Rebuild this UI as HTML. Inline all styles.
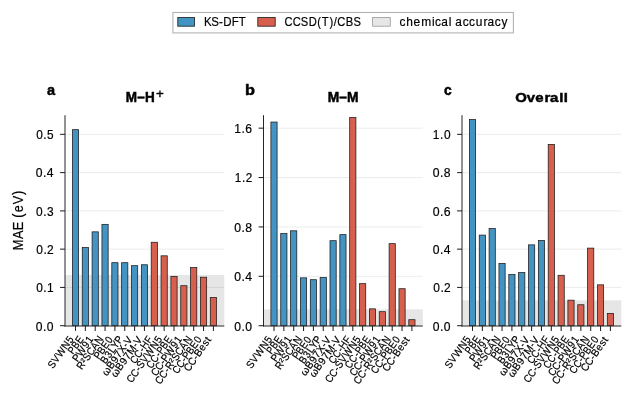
<!DOCTYPE html>
<html><head><meta charset="utf-8"><style>html,body{margin:0;padding:0;background:#fff;width:633px;height:398px;overflow:hidden}svg{display:block;will-change:transform}</style></head><body>
<svg width="633" height="398" viewBox="0 0 633 398" font-family="Liberation Sans, sans-serif">
<rect width="633" height="398" fill="#fff"/>
<rect x="65.00" y="274.99" width="159.30" height="50.71" fill="#e6e6e6"/>
<line x1="65.00" y1="287.43" x2="224.30" y2="287.43" stroke="#000" stroke-opacity="0.08" stroke-width="1"/>
<line x1="65.00" y1="249.15" x2="224.30" y2="249.15" stroke="#000" stroke-opacity="0.08" stroke-width="1"/>
<line x1="65.00" y1="210.88" x2="224.30" y2="210.88" stroke="#000" stroke-opacity="0.08" stroke-width="1"/>
<line x1="65.00" y1="172.61" x2="224.30" y2="172.61" stroke="#000" stroke-opacity="0.08" stroke-width="1"/>
<line x1="65.00" y1="134.34" x2="224.30" y2="134.34" stroke="#000" stroke-opacity="0.08" stroke-width="1"/>
<rect x="72.40" y="129.66" width="6.20" height="196.04" fill="#4393c3" stroke="#1a1a1a" stroke-width="0.75"/>
<rect x="82.25" y="247.54" width="6.20" height="78.16" fill="#4393c3" stroke="#1a1a1a" stroke-width="0.75"/>
<rect x="92.10" y="231.85" width="6.20" height="93.85" fill="#4393c3" stroke="#1a1a1a" stroke-width="0.75"/>
<rect x="101.95" y="224.35" width="6.20" height="101.35" fill="#4393c3" stroke="#1a1a1a" stroke-width="0.75"/>
<rect x="111.80" y="262.70" width="6.20" height="63.00" fill="#4393c3" stroke="#1a1a1a" stroke-width="0.75"/>
<rect x="121.65" y="262.70" width="6.20" height="63.00" fill="#4393c3" stroke="#1a1a1a" stroke-width="0.75"/>
<rect x="131.50" y="265.68" width="6.20" height="60.02" fill="#4393c3" stroke="#1a1a1a" stroke-width="0.75"/>
<rect x="141.35" y="264.76" width="6.20" height="60.94" fill="#4393c3" stroke="#1a1a1a" stroke-width="0.75"/>
<rect x="151.20" y="242.26" width="6.20" height="83.44" fill="#d6604d" stroke="#1a1a1a" stroke-width="0.75"/>
<rect x="161.05" y="255.81" width="6.20" height="69.89" fill="#d6604d" stroke="#1a1a1a" stroke-width="0.75"/>
<rect x="170.90" y="276.36" width="6.20" height="49.34" fill="#d6604d" stroke="#1a1a1a" stroke-width="0.75"/>
<rect x="180.75" y="285.70" width="6.20" height="40.00" fill="#d6604d" stroke="#1a1a1a" stroke-width="0.75"/>
<rect x="190.60" y="267.60" width="6.20" height="58.10" fill="#d6604d" stroke="#1a1a1a" stroke-width="0.75"/>
<rect x="200.45" y="277.20" width="6.20" height="48.50" fill="#d6604d" stroke="#1a1a1a" stroke-width="0.75"/>
<rect x="210.30" y="297.49" width="6.20" height="28.21" fill="#d6604d" stroke="#1a1a1a" stroke-width="0.75"/>
<line x1="65.00" y1="115.20" x2="65.00" y2="326.50" stroke="#262626" stroke-width="1.0"/>
<line x1="64.50" y1="326.00" x2="224.30" y2="326.00" stroke="#262626" stroke-width="1.0"/>
<line x1="60.10" y1="325.70" x2="65.00" y2="325.70" stroke="#222" stroke-width="1.05"/>
<line x1="60.10" y1="287.43" x2="65.00" y2="287.43" stroke="#222" stroke-width="1.05"/>
<line x1="60.10" y1="249.15" x2="65.00" y2="249.15" stroke="#222" stroke-width="1.05"/>
<line x1="60.10" y1="210.88" x2="65.00" y2="210.88" stroke="#222" stroke-width="1.05"/>
<line x1="60.10" y1="172.61" x2="65.00" y2="172.61" stroke="#222" stroke-width="1.05"/>
<line x1="60.10" y1="134.34" x2="65.00" y2="134.34" stroke="#222" stroke-width="1.05"/>
<line x1="75.50" y1="326.00" x2="75.50" y2="330.90" stroke="#222" stroke-width="1.05"/>
<line x1="85.35" y1="326.00" x2="85.35" y2="330.90" stroke="#222" stroke-width="1.05"/>
<line x1="95.20" y1="326.00" x2="95.20" y2="330.90" stroke="#222" stroke-width="1.05"/>
<line x1="105.05" y1="326.00" x2="105.05" y2="330.90" stroke="#222" stroke-width="1.05"/>
<line x1="114.90" y1="326.00" x2="114.90" y2="330.90" stroke="#222" stroke-width="1.05"/>
<line x1="124.75" y1="326.00" x2="124.75" y2="330.90" stroke="#222" stroke-width="1.05"/>
<line x1="134.60" y1="326.00" x2="134.60" y2="330.90" stroke="#222" stroke-width="1.05"/>
<line x1="144.45" y1="326.00" x2="144.45" y2="330.90" stroke="#222" stroke-width="1.05"/>
<line x1="154.30" y1="326.00" x2="154.30" y2="330.90" stroke="#222" stroke-width="1.05"/>
<line x1="164.15" y1="326.00" x2="164.15" y2="330.90" stroke="#222" stroke-width="1.05"/>
<line x1="174.00" y1="326.00" x2="174.00" y2="330.90" stroke="#222" stroke-width="1.05"/>
<line x1="183.85" y1="326.00" x2="183.85" y2="330.90" stroke="#222" stroke-width="1.05"/>
<line x1="193.70" y1="326.00" x2="193.70" y2="330.90" stroke="#222" stroke-width="1.05"/>
<line x1="203.55" y1="326.00" x2="203.55" y2="330.90" stroke="#222" stroke-width="1.05"/>
<line x1="213.40" y1="326.00" x2="213.40" y2="330.90" stroke="#222" stroke-width="1.05"/>
<rect x="263.50" y="309.34" width="159.30" height="16.36" fill="#e6e6e6"/>
<line x1="263.50" y1="276.32" x2="422.80" y2="276.32" stroke="#000" stroke-opacity="0.08" stroke-width="1"/>
<line x1="263.50" y1="226.93" x2="422.80" y2="226.93" stroke="#000" stroke-opacity="0.08" stroke-width="1"/>
<line x1="263.50" y1="177.55" x2="422.80" y2="177.55" stroke="#000" stroke-opacity="0.08" stroke-width="1"/>
<line x1="263.50" y1="128.16" x2="422.80" y2="128.16" stroke="#000" stroke-opacity="0.08" stroke-width="1"/>
<rect x="270.90" y="122.04" width="6.20" height="203.66" fill="#4393c3" stroke="#1a1a1a" stroke-width="0.75"/>
<rect x="280.75" y="233.53" width="6.20" height="92.17" fill="#4393c3" stroke="#1a1a1a" stroke-width="0.75"/>
<rect x="290.60" y="230.81" width="6.20" height="94.89" fill="#4393c3" stroke="#1a1a1a" stroke-width="0.75"/>
<rect x="300.45" y="277.85" width="6.20" height="47.85" fill="#4393c3" stroke="#1a1a1a" stroke-width="0.75"/>
<rect x="310.30" y="279.70" width="6.20" height="46.00" fill="#4393c3" stroke="#1a1a1a" stroke-width="0.75"/>
<rect x="320.15" y="277.60" width="6.20" height="48.10" fill="#4393c3" stroke="#1a1a1a" stroke-width="0.75"/>
<rect x="330.00" y="240.69" width="6.20" height="85.01" fill="#4393c3" stroke="#1a1a1a" stroke-width="0.75"/>
<rect x="339.85" y="234.64" width="6.20" height="91.06" fill="#4393c3" stroke="#1a1a1a" stroke-width="0.75"/>
<rect x="349.70" y="117.48" width="6.20" height="208.22" fill="#d6604d" stroke="#1a1a1a" stroke-width="0.75"/>
<rect x="359.55" y="283.65" width="6.20" height="42.05" fill="#d6604d" stroke="#1a1a1a" stroke-width="0.75"/>
<rect x="369.40" y="308.84" width="6.20" height="16.86" fill="#d6604d" stroke="#1a1a1a" stroke-width="0.75"/>
<rect x="379.25" y="311.68" width="6.20" height="14.02" fill="#d6604d" stroke="#1a1a1a" stroke-width="0.75"/>
<rect x="389.10" y="243.65" width="6.20" height="82.05" fill="#d6604d" stroke="#1a1a1a" stroke-width="0.75"/>
<rect x="398.95" y="288.71" width="6.20" height="36.99" fill="#d6604d" stroke="#1a1a1a" stroke-width="0.75"/>
<rect x="408.80" y="319.70" width="6.20" height="6.00" fill="#d6604d" stroke="#1a1a1a" stroke-width="0.75"/>
<line x1="263.50" y1="115.20" x2="263.50" y2="326.50" stroke="#262626" stroke-width="1.0"/>
<line x1="263.00" y1="326.00" x2="422.80" y2="326.00" stroke="#262626" stroke-width="1.0"/>
<line x1="258.60" y1="325.70" x2="263.50" y2="325.70" stroke="#222" stroke-width="1.05"/>
<line x1="258.60" y1="276.32" x2="263.50" y2="276.32" stroke="#222" stroke-width="1.05"/>
<line x1="258.60" y1="226.93" x2="263.50" y2="226.93" stroke="#222" stroke-width="1.05"/>
<line x1="258.60" y1="177.55" x2="263.50" y2="177.55" stroke="#222" stroke-width="1.05"/>
<line x1="258.60" y1="128.16" x2="263.50" y2="128.16" stroke="#222" stroke-width="1.05"/>
<line x1="274.00" y1="326.00" x2="274.00" y2="330.90" stroke="#222" stroke-width="1.05"/>
<line x1="283.85" y1="326.00" x2="283.85" y2="330.90" stroke="#222" stroke-width="1.05"/>
<line x1="293.70" y1="326.00" x2="293.70" y2="330.90" stroke="#222" stroke-width="1.05"/>
<line x1="303.55" y1="326.00" x2="303.55" y2="330.90" stroke="#222" stroke-width="1.05"/>
<line x1="313.40" y1="326.00" x2="313.40" y2="330.90" stroke="#222" stroke-width="1.05"/>
<line x1="323.25" y1="326.00" x2="323.25" y2="330.90" stroke="#222" stroke-width="1.05"/>
<line x1="333.10" y1="326.00" x2="333.10" y2="330.90" stroke="#222" stroke-width="1.05"/>
<line x1="342.95" y1="326.00" x2="342.95" y2="330.90" stroke="#222" stroke-width="1.05"/>
<line x1="352.80" y1="326.00" x2="352.80" y2="330.90" stroke="#222" stroke-width="1.05"/>
<line x1="362.65" y1="326.00" x2="362.65" y2="330.90" stroke="#222" stroke-width="1.05"/>
<line x1="372.50" y1="326.00" x2="372.50" y2="330.90" stroke="#222" stroke-width="1.05"/>
<line x1="382.35" y1="326.00" x2="382.35" y2="330.90" stroke="#222" stroke-width="1.05"/>
<line x1="392.20" y1="326.00" x2="392.20" y2="330.90" stroke="#222" stroke-width="1.05"/>
<line x1="402.05" y1="326.00" x2="402.05" y2="330.90" stroke="#222" stroke-width="1.05"/>
<line x1="411.90" y1="326.00" x2="411.90" y2="330.90" stroke="#222" stroke-width="1.05"/>
<rect x="462.00" y="300.34" width="159.30" height="25.36" fill="#e6e6e6"/>
<line x1="462.00" y1="287.43" x2="621.30" y2="287.43" stroke="#000" stroke-opacity="0.08" stroke-width="1"/>
<line x1="462.00" y1="249.15" x2="621.30" y2="249.15" stroke="#000" stroke-opacity="0.08" stroke-width="1"/>
<line x1="462.00" y1="210.88" x2="621.30" y2="210.88" stroke="#000" stroke-opacity="0.08" stroke-width="1"/>
<line x1="462.00" y1="172.61" x2="621.30" y2="172.61" stroke="#000" stroke-opacity="0.08" stroke-width="1"/>
<line x1="462.00" y1="134.34" x2="621.30" y2="134.34" stroke="#000" stroke-opacity="0.08" stroke-width="1"/>
<rect x="469.40" y="119.52" width="6.20" height="206.18" fill="#4393c3" stroke="#1a1a1a" stroke-width="0.75"/>
<rect x="479.25" y="235.10" width="6.20" height="90.60" fill="#4393c3" stroke="#1a1a1a" stroke-width="0.75"/>
<rect x="489.10" y="228.60" width="6.20" height="97.10" fill="#4393c3" stroke="#1a1a1a" stroke-width="0.75"/>
<rect x="498.95" y="263.42" width="6.20" height="62.28" fill="#4393c3" stroke="#1a1a1a" stroke-width="0.75"/>
<rect x="508.80" y="274.52" width="6.20" height="51.18" fill="#4393c3" stroke="#1a1a1a" stroke-width="0.75"/>
<rect x="518.65" y="272.61" width="6.20" height="53.09" fill="#4393c3" stroke="#1a1a1a" stroke-width="0.75"/>
<rect x="528.50" y="244.86" width="6.20" height="80.84" fill="#4393c3" stroke="#1a1a1a" stroke-width="0.75"/>
<rect x="538.35" y="240.46" width="6.20" height="85.24" fill="#4393c3" stroke="#1a1a1a" stroke-width="0.75"/>
<rect x="548.20" y="144.40" width="6.20" height="181.30" fill="#d6604d" stroke="#1a1a1a" stroke-width="0.75"/>
<rect x="558.05" y="275.29" width="6.20" height="50.41" fill="#d6604d" stroke="#1a1a1a" stroke-width="0.75"/>
<rect x="567.90" y="300.17" width="6.20" height="25.53" fill="#d6604d" stroke="#1a1a1a" stroke-width="0.75"/>
<rect x="577.75" y="304.76" width="6.20" height="20.94" fill="#d6604d" stroke="#1a1a1a" stroke-width="0.75"/>
<rect x="587.60" y="248.12" width="6.20" height="77.58" fill="#d6604d" stroke="#1a1a1a" stroke-width="0.75"/>
<rect x="597.45" y="284.86" width="6.20" height="40.84" fill="#d6604d" stroke="#1a1a1a" stroke-width="0.75"/>
<rect x="607.30" y="313.37" width="6.20" height="12.33" fill="#d6604d" stroke="#1a1a1a" stroke-width="0.75"/>
<line x1="462.00" y1="115.20" x2="462.00" y2="326.50" stroke="#262626" stroke-width="1.0"/>
<line x1="461.50" y1="326.00" x2="621.30" y2="326.00" stroke="#262626" stroke-width="1.0"/>
<line x1="457.10" y1="325.70" x2="462.00" y2="325.70" stroke="#222" stroke-width="1.05"/>
<line x1="457.10" y1="287.43" x2="462.00" y2="287.43" stroke="#222" stroke-width="1.05"/>
<line x1="457.10" y1="249.15" x2="462.00" y2="249.15" stroke="#222" stroke-width="1.05"/>
<line x1="457.10" y1="210.88" x2="462.00" y2="210.88" stroke="#222" stroke-width="1.05"/>
<line x1="457.10" y1="172.61" x2="462.00" y2="172.61" stroke="#222" stroke-width="1.05"/>
<line x1="457.10" y1="134.34" x2="462.00" y2="134.34" stroke="#222" stroke-width="1.05"/>
<line x1="472.50" y1="326.00" x2="472.50" y2="330.90" stroke="#222" stroke-width="1.05"/>
<line x1="482.35" y1="326.00" x2="482.35" y2="330.90" stroke="#222" stroke-width="1.05"/>
<line x1="492.20" y1="326.00" x2="492.20" y2="330.90" stroke="#222" stroke-width="1.05"/>
<line x1="502.05" y1="326.00" x2="502.05" y2="330.90" stroke="#222" stroke-width="1.05"/>
<line x1="511.90" y1="326.00" x2="511.90" y2="330.90" stroke="#222" stroke-width="1.05"/>
<line x1="521.75" y1="326.00" x2="521.75" y2="330.90" stroke="#222" stroke-width="1.05"/>
<line x1="531.60" y1="326.00" x2="531.60" y2="330.90" stroke="#222" stroke-width="1.05"/>
<line x1="541.45" y1="326.00" x2="541.45" y2="330.90" stroke="#222" stroke-width="1.05"/>
<line x1="551.30" y1="326.00" x2="551.30" y2="330.90" stroke="#222" stroke-width="1.05"/>
<line x1="561.15" y1="326.00" x2="561.15" y2="330.90" stroke="#222" stroke-width="1.05"/>
<line x1="571.00" y1="326.00" x2="571.00" y2="330.90" stroke="#222" stroke-width="1.05"/>
<line x1="580.85" y1="326.00" x2="580.85" y2="330.90" stroke="#222" stroke-width="1.05"/>
<line x1="590.70" y1="326.00" x2="590.70" y2="330.90" stroke="#222" stroke-width="1.05"/>
<line x1="600.55" y1="326.00" x2="600.55" y2="330.90" stroke="#222" stroke-width="1.05"/>
<line x1="610.40" y1="326.00" x2="610.40" y2="330.90" stroke="#222" stroke-width="1.05"/>
<rect x="172.9" y="12.5" width="340.5" height="20.4" fill="#fff" stroke="#b3b3b3" stroke-width="1.1"/>
<rect x="177.80" y="17.5" width="16.70" height="8.7" fill="#4393c3" stroke="#1a1a1a" stroke-width="0.8"/>
<rect x="257.80" y="17.5" width="17.40" height="8.7" fill="#d6604d" stroke="#1a1a1a" stroke-width="0.8"/>
<rect x="372.60" y="17.5" width="17.70" height="8.7" fill="#e6e6e6" stroke="#999999" stroke-width="0.8"/>
<g fill="#000" stroke="#000" stroke-width="0.18"><g transform="translate(53.10 330.57) translate(-17.53 0)"><text x="0.26 7.05 10.65" y="0" font-size="11.50" transform="scale(1.057 1.042)">0.0</text></g><g transform="translate(53.10 292.30) translate(-17.23 0)"><text x="0.33 7.22 10.86" y="0" font-size="11.50" transform="scale(1.036 1.040)">0.1</text></g><g transform="translate(53.10 254.02) translate(-17.14 0)"><text x="0.32 7.19 10.72" y="0" font-size="11.50" transform="scale(1.040 1.042)">0.2</text></g><g transform="translate(53.10 215.75) translate(-17.37 0)"><text x="0.32 7.21 10.91" y="0" font-size="11.50" transform="scale(1.038 1.042)">0.3</text></g><g transform="translate(53.10 177.48) translate(-17.64 0)"><text x="0.26 7.05 10.64" y="0" font-size="11.50" transform="scale(1.057 1.040)">0.4</text></g><g transform="translate(53.10 139.21) translate(-17.28 0)"><text x="0.35 7.28 10.96" y="0" font-size="11.50" transform="scale(1.030 1.040)">0.5</text></g><g transform="translate(53.50 368.65) rotate(-55.0) translate(-0.66 0)"><text x="-0.03 6.67 13.85 23.85 31.73" y="0" font-size="10.00" transform="scale(0.977 1.060)">SVWN5</text></g><g transform="translate(73.56 354.07) rotate(-55.0) translate(-0.98 0)"><text x="0.19 7.10 14.35" y="0" font-size="10.00" transform="scale(0.907 1.060)">PBE</text></g><g transform="translate(78.16 361.56) rotate(-55.0) translate(-0.98 0)"><text x="-0.10 6.40 16.54 22.97" y="0" font-size="10.00" transform="scale(0.987 1.060)">PW91</text></g><g transform="translate(82.33 369.68) rotate(-55.0) translate(-0.98 0)"><text x="0.20 7.58 11.46 18.03 25.57 32.76" y="0" font-size="10.00" transform="scale(0.959 1.061)">R²SCAN</text></g><g transform="translate(99.47 359.26) rotate(-55.0) translate(-0.98 0)"><text x="0.06 6.72 13.71 21.01" y="0" font-size="10.00" transform="scale(0.941 1.060)">PBE0</text></g><g transform="translate(106.06 363.91) rotate(-55.0) translate(-0.98 0)"><text x="0.18 7.53 13.88 19.09 25.50" y="0" font-size="10.00" transform="scale(0.974 1.060)">B3LYP</text></g><g transform="translate(107.36 376.13) rotate(-55.0) translate(-0.66 0)"><text x="0.19 8.23 15.24 21.49 27.42 34.23 37.68" y="0" font-size="10.00" transform="scale(1.020 1.053)">ωB97X-V</text></g><g transform="translate(116.19 377.58) rotate(-55.0) translate(-0.66 0)"><text x="0.20 8.24 15.26 21.51 27.51 36.01 39.46" y="0" font-size="10.00" transform="scale(1.019 1.053)">ωB97M-V</text></g><g transform="translate(135.56 363.99) rotate(-55.0) translate(-0.56 0)"><text x="0.04 7.44 15.05 19.00 26.59" y="0" font-size="10.00" transform="scale(0.944 1.061)">CC-HF</text></g><g transform="translate(132.01 383.12) rotate(-55.0) translate(-0.56 0)"><text x="-0.06 7.15 14.61 18.14 24.88 32.13 42.21 50.14" y="0" font-size="10.00" transform="scale(0.969 1.061)">CC-SVWN5</text></g><g transform="translate(151.89 368.81) rotate(-55.0) translate(-0.56 0)"><text x="0.09 7.61 15.31 19.02 25.76 32.84" y="0" font-size="10.00" transform="scale(0.929 1.061)">CC-PBE</text></g><g transform="translate(156.49 376.30) rotate(-55.0) translate(-0.56 0)"><text x="-0.08 7.09 14.53 18.00 24.60 34.85 41.38" y="0" font-size="10.00" transform="scale(0.974 1.061)">CC-PW91</text></g><g transform="translate(160.66 384.42) rotate(-55.0) translate(-0.56 0)"><text x="-0.01 7.28 14.82 18.58 25.97 29.86 36.44 44.00 51.21" y="0" font-size="10.00" transform="scale(0.957 1.062)">CC-R²SCAN</text></g><g transform="translate(177.80 374.00) rotate(-55.0) translate(-0.56 0)"><text x="0.03 7.41 15.01 18.62 25.25 32.20 39.47" y="0" font-size="10.00" transform="scale(0.946 1.061)">CC-PBE0</text></g><g transform="translate(189.37 371.54) rotate(-55.0) translate(-0.56 0)"><text x="-0.19 6.75 14.01 17.54 24.59 30.57 36.13" y="0" font-size="10.00" transform="scale(1.006 1.059)">CC-Best</text></g><g transform="translate(126.13 101.60) translate(-1.19 0)" font-weight="bold" stroke="#000" stroke-width="0.45"><text x="0.79 11.92 19.18" y="0" font-size="13.00" transform="scale(1.042 1.060)">M–H</text></g><g stroke="#000" stroke-width="0.3" transform="translate(156.66 97.70) translate(-1.10 0)"><text x="0.35" y="0" font-size="10.40" transform="scale(1.288 1.314)">+</text></g><g transform="translate(47.50 94.70) translate(-0.60 0)" font-weight="bold" stroke="#000" stroke-width="0.45"><text x="0.17" y="0" font-size="14.00" transform="scale(1.038 1.093)">a</text></g><g transform="translate(251.60 330.57) translate(-17.53 0)"><text x="0.26 7.05 10.65" y="0" font-size="11.50" transform="scale(1.057 1.042)">0.0</text></g><g transform="translate(251.60 281.19) translate(-17.64 0)"><text x="0.26 7.05 10.64" y="0" font-size="11.50" transform="scale(1.057 1.040)">0.4</text></g><g transform="translate(251.60 231.80) translate(-17.50 0)"><text x="0.24 7.01 10.58" y="0" font-size="11.50" transform="scale(1.062 1.042)">0.8</text></g><g transform="translate(251.60 182.42) translate(-17.14 0)"><text x="0.34 7.38 11.02" y="0" font-size="11.50" transform="scale(1.018 1.040)">1.2</text></g><g transform="translate(251.60 133.03) translate(-17.56 0)"><text x="0.21 7.08 10.69" y="0" font-size="11.50" transform="scale(1.053 1.040)">1.6</text></g><g transform="translate(252.00 368.65) rotate(-55.0) translate(-0.66 0)"><text x="-0.03 6.67 13.85 23.85 31.73" y="0" font-size="10.00" transform="scale(0.977 1.060)">SVWN5</text></g><g transform="translate(272.06 354.07) rotate(-55.0) translate(-0.98 0)"><text x="0.19 7.10 14.35" y="0" font-size="10.00" transform="scale(0.907 1.060)">PBE</text></g><g transform="translate(276.66 361.56) rotate(-55.0) translate(-0.98 0)"><text x="-0.10 6.40 16.54 22.97" y="0" font-size="10.00" transform="scale(0.987 1.060)">PW91</text></g><g transform="translate(280.83 369.68) rotate(-55.0) translate(-0.98 0)"><text x="0.20 7.58 11.46 18.03 25.57 32.76" y="0" font-size="10.00" transform="scale(0.959 1.061)">R²SCAN</text></g><g transform="translate(297.97 359.26) rotate(-55.0) translate(-0.98 0)"><text x="0.06 6.72 13.71 21.01" y="0" font-size="10.00" transform="scale(0.941 1.060)">PBE0</text></g><g transform="translate(304.56 363.91) rotate(-55.0) translate(-0.98 0)"><text x="0.18 7.53 13.88 19.09 25.50" y="0" font-size="10.00" transform="scale(0.974 1.060)">B3LYP</text></g><g transform="translate(305.86 376.13) rotate(-55.0) translate(-0.66 0)"><text x="0.19 8.23 15.24 21.49 27.42 34.23 37.68" y="0" font-size="10.00" transform="scale(1.020 1.053)">ωB97X-V</text></g><g transform="translate(314.69 377.58) rotate(-55.0) translate(-0.66 0)"><text x="0.20 8.24 15.26 21.51 27.51 36.01 39.46" y="0" font-size="10.00" transform="scale(1.019 1.053)">ωB97M-V</text></g><g transform="translate(334.06 363.99) rotate(-55.0) translate(-0.56 0)"><text x="0.04 7.44 15.05 19.00 26.59" y="0" font-size="10.00" transform="scale(0.944 1.061)">CC-HF</text></g><g transform="translate(330.51 383.12) rotate(-55.0) translate(-0.56 0)"><text x="-0.06 7.15 14.61 18.14 24.88 32.13 42.21 50.14" y="0" font-size="10.00" transform="scale(0.969 1.061)">CC-SVWN5</text></g><g transform="translate(350.39 368.81) rotate(-55.0) translate(-0.56 0)"><text x="0.09 7.61 15.31 19.02 25.76 32.84" y="0" font-size="10.00" transform="scale(0.929 1.061)">CC-PBE</text></g><g transform="translate(354.99 376.30) rotate(-55.0) translate(-0.56 0)"><text x="-0.08 7.09 14.53 18.00 24.60 34.85 41.38" y="0" font-size="10.00" transform="scale(0.974 1.061)">CC-PW91</text></g><g transform="translate(359.16 384.42) rotate(-55.0) translate(-0.56 0)"><text x="-0.01 7.28 14.82 18.58 25.97 29.86 36.44 44.00 51.21" y="0" font-size="10.00" transform="scale(0.957 1.062)">CC-R²SCAN</text></g><g transform="translate(376.30 374.00) rotate(-55.0) translate(-0.56 0)"><text x="0.03 7.41 15.01 18.62 25.25 32.20 39.47" y="0" font-size="10.00" transform="scale(0.946 1.061)">CC-PBE0</text></g><g transform="translate(387.87 371.54) rotate(-55.0) translate(-0.56 0)"><text x="-0.19 6.75 14.01 17.54 24.59 30.57 36.13" y="0" font-size="10.00" transform="scale(1.006 1.059)">CC-Best</text></g><g transform="translate(343.15 101.60) translate(-16.18 0)" font-weight="bold" stroke="#000" stroke-width="0.45"><text x="0.66 11.60 18.93" y="0" font-size="13.00" transform="scale(1.064 1.060)">M–M</text></g><g transform="translate(246.00 94.70) translate(-1.18 0)" font-weight="bold" stroke="#000" stroke-width="0.45"><text x="0.09" y="0" font-size="14.00" transform="scale(1.165 1.101)">b</text></g><g transform="translate(450.10 330.57) translate(-17.53 0)"><text x="0.26 7.05 10.65" y="0" font-size="11.50" transform="scale(1.057 1.042)">0.0</text></g><g transform="translate(450.10 292.30) translate(-17.14 0)"><text x="0.32 7.19 10.72" y="0" font-size="11.50" transform="scale(1.040 1.042)">0.2</text></g><g transform="translate(450.10 254.02) translate(-17.64 0)"><text x="0.26 7.05 10.64" y="0" font-size="11.50" transform="scale(1.057 1.040)">0.4</text></g><g transform="translate(450.10 215.75) translate(-17.56 0)"><text x="0.21 6.92 10.43" y="0" font-size="11.50" transform="scale(1.073 1.042)">0.6</text></g><g transform="translate(450.10 177.48) translate(-17.50 0)"><text x="0.24 7.01 10.58" y="0" font-size="11.50" transform="scale(1.062 1.042)">0.8</text></g><g transform="translate(450.10 139.21) translate(-17.53 0)"><text x="0.27 7.22 10.92" y="0" font-size="11.50" transform="scale(1.036 1.040)">1.0</text></g><g transform="translate(450.50 368.65) rotate(-55.0) translate(-0.66 0)"><text x="-0.03 6.67 13.85 23.85 31.73" y="0" font-size="10.00" transform="scale(0.977 1.060)">SVWN5</text></g><g transform="translate(470.56 354.07) rotate(-55.0) translate(-0.98 0)"><text x="0.19 7.10 14.35" y="0" font-size="10.00" transform="scale(0.907 1.060)">PBE</text></g><g transform="translate(475.16 361.56) rotate(-55.0) translate(-0.98 0)"><text x="-0.10 6.40 16.54 22.97" y="0" font-size="10.00" transform="scale(0.987 1.060)">PW91</text></g><g transform="translate(479.33 369.68) rotate(-55.0) translate(-0.98 0)"><text x="0.20 7.58 11.46 18.03 25.57 32.76" y="0" font-size="10.00" transform="scale(0.959 1.061)">R²SCAN</text></g><g transform="translate(496.47 359.26) rotate(-55.0) translate(-0.98 0)"><text x="0.06 6.72 13.71 21.01" y="0" font-size="10.00" transform="scale(0.941 1.060)">PBE0</text></g><g transform="translate(503.06 363.91) rotate(-55.0) translate(-0.98 0)"><text x="0.18 7.53 13.88 19.09 25.50" y="0" font-size="10.00" transform="scale(0.974 1.060)">B3LYP</text></g><g transform="translate(504.36 376.13) rotate(-55.0) translate(-0.66 0)"><text x="0.19 8.23 15.24 21.49 27.42 34.23 37.68" y="0" font-size="10.00" transform="scale(1.020 1.053)">ωB97X-V</text></g><g transform="translate(513.19 377.58) rotate(-55.0) translate(-0.66 0)"><text x="0.20 8.24 15.26 21.51 27.51 36.01 39.46" y="0" font-size="10.00" transform="scale(1.019 1.053)">ωB97M-V</text></g><g transform="translate(532.56 363.99) rotate(-55.0) translate(-0.56 0)"><text x="0.04 7.44 15.05 19.00 26.59" y="0" font-size="10.00" transform="scale(0.944 1.061)">CC-HF</text></g><g transform="translate(529.01 383.12) rotate(-55.0) translate(-0.56 0)"><text x="-0.06 7.15 14.61 18.14 24.88 32.13 42.21 50.14" y="0" font-size="10.00" transform="scale(0.969 1.061)">CC-SVWN5</text></g><g transform="translate(548.89 368.81) rotate(-55.0) translate(-0.56 0)"><text x="0.09 7.61 15.31 19.02 25.76 32.84" y="0" font-size="10.00" transform="scale(0.929 1.061)">CC-PBE</text></g><g transform="translate(553.49 376.30) rotate(-55.0) translate(-0.56 0)"><text x="-0.08 7.09 14.53 18.00 24.60 34.85 41.38" y="0" font-size="10.00" transform="scale(0.974 1.061)">CC-PW91</text></g><g transform="translate(557.66 384.42) rotate(-55.0) translate(-0.56 0)"><text x="-0.01 7.28 14.82 18.58 25.97 29.86 36.44 44.00 51.21" y="0" font-size="10.00" transform="scale(0.957 1.062)">CC-R²SCAN</text></g><g transform="translate(574.80 374.00) rotate(-55.0) translate(-0.56 0)"><text x="0.03 7.41 15.01 18.62 25.25 32.20 39.47" y="0" font-size="10.00" transform="scale(0.946 1.061)">CC-PBE0</text></g><g transform="translate(586.37 371.54) rotate(-55.0) translate(-0.56 0)"><text x="-0.19 6.75 14.01 17.54 24.59 30.57 36.13" y="0" font-size="10.00" transform="scale(1.006 1.059)">CC-Best</text></g><g transform="translate(541.65 101.60) translate(-26.00 0)" font-weight="bold" stroke="#000" stroke-width="0.45"><text x="-0.25 9.68 17.13 25.03 29.98 37.98 41.85" y="0" font-size="13.00" transform="scale(1.150 1.045)">Overall</text></g><g transform="translate(444.50 94.70) translate(-0.60 0)" font-weight="bold" stroke="#000" stroke-width="0.45"><text x="0.06" y="0" font-size="14.00" transform="scale(0.990 1.093)">c</text></g><g transform="translate(22.70 220.45) rotate(-90) translate(-30.05 0)"><text x="0.37 11.89 20.75 29.73 33.82 39.50 47.51 57.28" y="0" font-size="13.10" transform="scale(0.971 1.138)">MAE (eV)</text></g><g transform="translate(204.90 25.60) translate(-1.14 0)"><text x="0.27 7.65 15.41 19.84 28.38 35.38" y="0" font-size="11.65" transform="scale(0.988 1.060)">KS-DFT</text></g><g transform="translate(285.20 25.60) translate(-0.65 0)"><text x="-0.03 8.45 17.00 25.18 34.17 38.92 46.91 51.36 54.99 63.78 71.87" y="0" font-size="11.65" transform="scale(0.959 1.054)">CCSD(T)/CBS</text></g><g transform="translate(400.10 25.60) translate(-0.64 0)"><text x="0.08 6.62 13.73 21.15 31.80 34.75 40.73 48.16 51.22 54.47 61.69 67.94 74.44 81.93 85.80 93.02 99.64" y="0" font-size="11.65" transform="scale(1.025 1.043)">chemical accuracy</text></g></g>
</svg>
</body></html>
